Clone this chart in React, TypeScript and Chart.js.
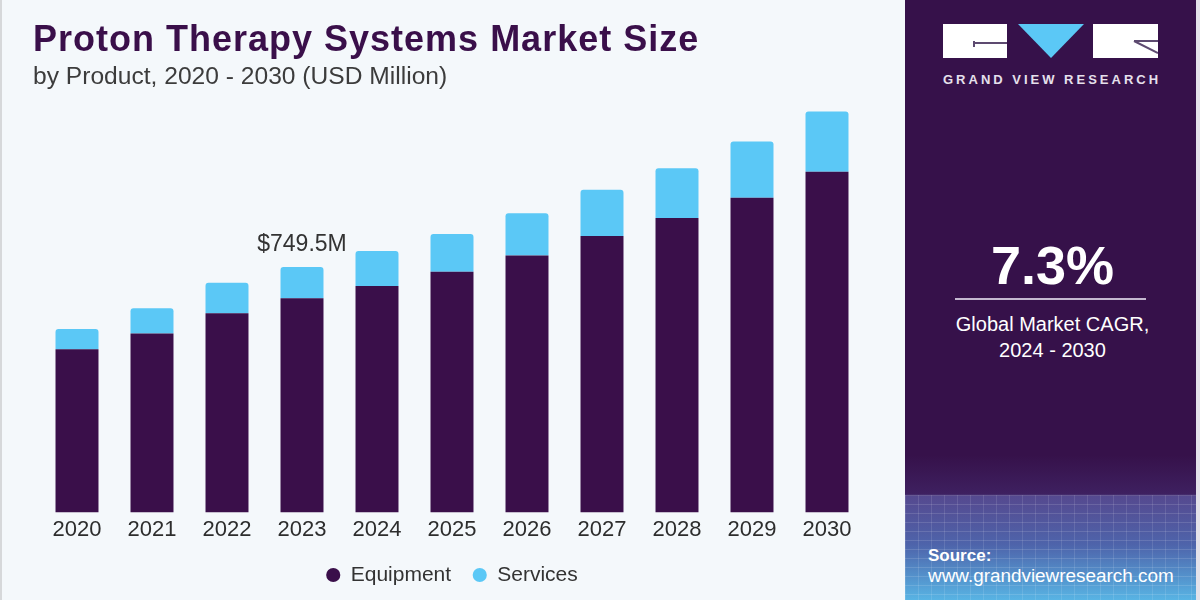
import React, { useEffect, useRef } from "react";
import { Chart, registerables } from "chart.js";

Chart.register(...registerables);

const YEARS = ["2020", "2021", "2022", "2023", "2024", "2025", "2026", "2027", "2028", "2029", "2030"];
const EQUIPMENT = [498, 546, 608, 654, 691, 735, 784, 844, 899, 961, 1040];
const SERVICES = [62, 77, 93, 95.5, 107, 115, 129, 141, 152, 171, 184];
const SERIES_NAMES = ["Equipment", "Services"];
const ANNOTATED_INDEX = 3;
const Y_MAX = 1320;

const PURPLE = "#3a0f4a";
const BLUE = "#5bc8f6";
const FONT = "'Liberation Sans', Arial, Helvetica, sans-serif";

const annotationPlugin = {
  id: "totalLabel",
  afterDatasetsDraw(chart: any) {
    const meta = chart.getDatasetMeta(1);
    const bar = meta.data[ANNOTATED_INDEX];
    if (!bar) return;
    const total = EQUIPMENT[ANNOTATED_INDEX] + SERVICES[ANNOTATED_INDEX];
    const ctx = chart.ctx;
    ctx.save();
    ctx.font = `23px ${FONT}`;
    ctx.fillStyle = "#333333";
    ctx.textAlign = "center";
    ctx.textBaseline = "alphabetic";
    ctx.fillText(`$${total.toFixed(1)}M`, bar.x, bar.y - 16);
    ctx.restore();
  },
};

function BarChart() {
  const ref = useRef<HTMLCanvasElement | null>(null);
  useEffect(() => {
    if (!ref.current) return;
    const chart = new Chart(ref.current, {
      type: "bar",
      data: {
        labels: YEARS,
        datasets: [
          {
            label: SERIES_NAMES[0],
            data: EQUIPMENT,
            backgroundColor: PURPLE,
            borderWidth: 0,
            barPercentage: 0.573,
            categoryPercentage: 1,
          },
          {
            label: SERIES_NAMES[1],
            data: SERVICES,
            backgroundColor: BLUE,
            borderWidth: 0,
            borderRadius: { topLeft: 3, topRight: 3, bottomLeft: 0, bottomRight: 0 },
            borderSkipped: false,
            barPercentage: 0.573,
            categoryPercentage: 1,
          },
        ],
      },
      options: {
        responsive: false,
        animation: false,
        devicePixelRatio: 1,
        layout: { padding: { top: 80, left: 39.5, right: 40.5, bottom: 4.5 } },
        scales: {
          x: {
            stacked: true,
            grid: { display: false, drawTicks: false },
            border: { display: false },
            ticks: { color: "#2d2d2d", font: { family: FONT, size: 22 }, padding: 4 },
            afterFit: (scale: any) => {
              scale.height = 30.4;
            },
          },
          y: { stacked: true, display: false, min: 0, max: Y_MAX },
        },
        plugins: {
          legend: {
            position: "bottom",
            labels: {
              usePointStyle: true,
              pointStyle: "circle",
              boxWidth: 14,
              boxHeight: 10,
              padding: 21.6,
              color: "#333333",
              font: { family: FONT, size: 21 },
            },
          },
          tooltip: { enabled: false },
        },
      },
      plugins: [annotationPlugin],
    });
    return () => chart.destroy();
  }, []);
  return <canvas ref={ref} width={905} height={600} style={{ position: "absolute", left: 0, top: 0, display: "block" }} />;
}

const abs = (s: React.CSSProperties): React.CSSProperties => ({ position: "absolute", ...s });

export default function App() {
  return (
    <div style={{ position: "fixed", left: 0, top: 0, width: 1200, height: 600, overflow: "hidden", background: "#f4f8fb", fontFamily: FONT }}>
      <div style={abs({ left: 0, top: 0, width: 2, height: 600, background: "#d6d8da" })} />
      <BarChart />
      <div style={abs({ left: 33, top: 21, fontSize: 36, lineHeight: "36px", fontWeight: 700, color: PURPLE, letterSpacing: 1, whiteSpace: "nowrap" })}>
        Proton Therapy Systems Market Size
      </div>
      <div style={abs({ left: 33, top: 64.2, fontSize: 24.6, lineHeight: "24.6px", color: "#3c3c3c", whiteSpace: "nowrap" })}>
        by Product, 2020 - 2030 (USD Million)
      </div>

      {/* right panel */}
      <div style={abs({ left: 905, top: 0, width: 295, height: 600, background: "linear-gradient(to bottom, #36114a 0px, #36114a 455px, #3e2060 494px, #55498f 496px, #4e64ab 545px, #58b4e4 600px)" })} />
      <div
        style={abs({
          left: 905,
          top: 495,
          width: 295,
          height: 105,
          backgroundImage:
            "repeating-linear-gradient(to bottom, rgba(255,255,255,0.13) 0px, rgba(255,255,255,0.13) 1px, transparent 1px, transparent 9px), repeating-linear-gradient(to right, rgba(255,255,255,0.11) 0px, rgba(255,255,255,0.11) 1px, transparent 1px, transparent 13px)",
        })}
      />
      <div style={abs({ left: 1196, top: 0, width: 4, height: 600, background: "#e4e2ea" })} />

      {/* logo */}
      <div style={abs({ left: 943, top: 24, width: 64, height: 34, background: "#ffffff" })} />
      <div style={abs({ left: 973, top: 42, width: 34, height: 2, background: "#5d4a70" })} />
      <div style={abs({ left: 973, top: 41, width: 2, height: 6, background: "#5d4a70" })} />
      <div style={abs({ left: 1018, top: 24, width: 66, height: 34, background: "#5bc8f6", clipPath: "polygon(0 0, 100% 0, 50% 100%)" })} />
      <div style={abs({ left: 1093, top: 24, width: 65, height: 34, background: "#ffffff" })} />
      <svg style={abs({ left: 1093, top: 24 })} width={65} height={34}>
        <line x1={41} y1={17} x2={65} y2={17} stroke="#5d4a70" strokeWidth={2} />
        <line x1={41} y1={17} x2={65} y2={29} stroke="#5d4a70" strokeWidth={2} />
      </svg>
      <div style={abs({ left: 943, top: 72.5, fontSize: 13, lineHeight: "13px", fontWeight: 700, color: "#e6e0ec", letterSpacing: 3, whiteSpace: "nowrap" })}>
        GRAND VIEW RESEARCH
      </div>

      <div style={abs({ left: 905, width: 295, top: 238.3, textAlign: "center", fontSize: 54, lineHeight: "54px", fontWeight: 700, color: "#ffffff" })}>
        7.3%
      </div>
      <div style={abs({ left: 955, top: 298, width: 191, height: 2, background: "#c4b8d0" })} />
      <div style={abs({ left: 905, width: 295, top: 310.6, textAlign: "center", fontSize: 20, lineHeight: "26px", color: "#ffffff" })}>
        Global Market CAGR,
        <br />
        2024 - 2030
      </div>

      <div style={abs({ left: 928, top: 546.6, fontSize: 17, lineHeight: "17px", fontWeight: 700, color: "#ffffff" })}>Source:</div>
      <div style={abs({ left: 928, top: 567, fontSize: 18.9, lineHeight: "18.9px", color: "#ffffff", whiteSpace: "nowrap" })}>
        www.grandviewresearch.com
      </div>
    </div>
  );
}
